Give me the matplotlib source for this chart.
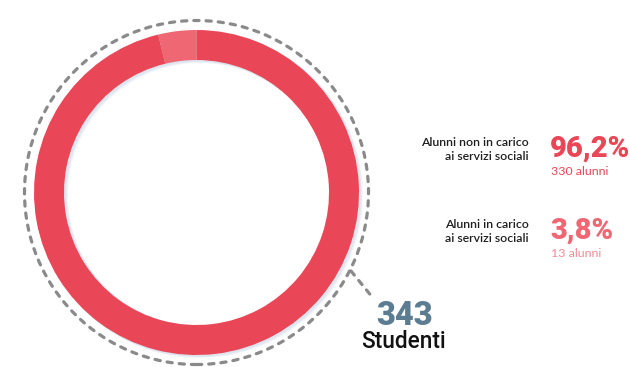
import matplotlib
matplotlib.use("Agg")
import matplotlib.pyplot as plt
from matplotlib.patches import Circle, Wedge

# Data
categories = ["Alunni non in carico\nai servizi sociali", "Alunni in carico\nai servizi sociali"]
counts = [330, 13]
total_label = "Studenti"

total = sum(counts)
shares = [c / total * 100 for c in counts]

main_red = "#E94757"
light_red = "#EE6773"
pale_red = "#F28B96"
slate = "#5B7C91"
dash_gray = "#8A8A8A"

plt.rcParams["lines.scale_dashes"] = False

W, H = 630, 367
fig = plt.figure(figsize=(W / 100, H / 100), dpi=100)
ax = fig.add_axes([0, 0, 1, 1])

cx, cy = 196.5, H - 192.5
r_out, ring_w = 162.5, 30

# soft shadow under the ring
for dx, dy, a in [(3.5, -2.5, 0.25), (2.5, -1.8, 0.35), (1.5, -1.0, 0.45)]:
    ax.add_patch(Wedge((cx + dx, cy + dy), r_out + 0.5, 0, 360, width=ring_w + 1,
                       facecolor="#D3DCE8", edgecolor="none", alpha=a, zorder=1))

# donut: small slice runs counter-clockwise from the top, main slice fills the rest
ax.pie([counts[1], counts[0]], colors=[light_red, main_red], startangle=90,
       counterclock=True, center=(cx, cy), radius=r_out,
       wedgeprops=dict(width=ring_w, edgecolor="none", zorder=2), frame=True)
ax.set_xlim(0, W)
ax.set_ylim(0, H)
ax.set_aspect("equal")
ax.axis("off")

# dashed outline with pointer towards the total
ax.add_patch(Circle((cx, cy), 172, fill=False, edgecolor=dash_gray, linewidth=2.3,
                    linestyle=(0, (3.8, 5.0)), capstyle="round", zorder=3))
ax.plot([351, 373], [H - 271, H - 298], color=dash_gray, linewidth=2.3,
        linestyle=(0, (3.8, 5.0)), dash_capstyle="round", zorder=3)

# total
ax.text(376, H - 325, f"{total}", fontsize=23.5, fontweight="heavy", color=slate,
        family="Roboto", ha="left", va="baseline")
ax.text(361, H - 348, total_label, fontsize=16.3, fontweight="medium", color="#111111",
        family="Roboto", ha="left", va="baseline")

# legend blocks
pct_colors = [main_red, light_red]
sub_colors = [main_red, pale_red]
block_y = [146, 228]
for cat, n, s, pc, sc, y in zip(categories, counts, shares, pct_colors, sub_colors, block_y):
    l1, l2 = cat.split("\n")
    ax.text(529, H - y, l1, fontsize=8.8, color="#1E1E1E", family="Lato",
            fontweight="semibold", ha="right", va="baseline")
    ax.text(529, H - (y + 13.5), l2, fontsize=8.8, color="#1E1E1E", family="Lato",
            fontweight="semibold", ha="right", va="baseline")
    ax.text(550, H - (y + 11), f"{s:.1f}%".replace(".", ","), fontsize=21,
            fontweight="heavy", color=pc, family="Roboto", ha="left", va="baseline")
    ax.text(551, H - (y + 29), f"{n} alunni", fontsize=8.9, color=sc, family="Lato",
            ha="left", va="baseline")

fig.savefig("out.png", dpi=100, facecolor="white")
